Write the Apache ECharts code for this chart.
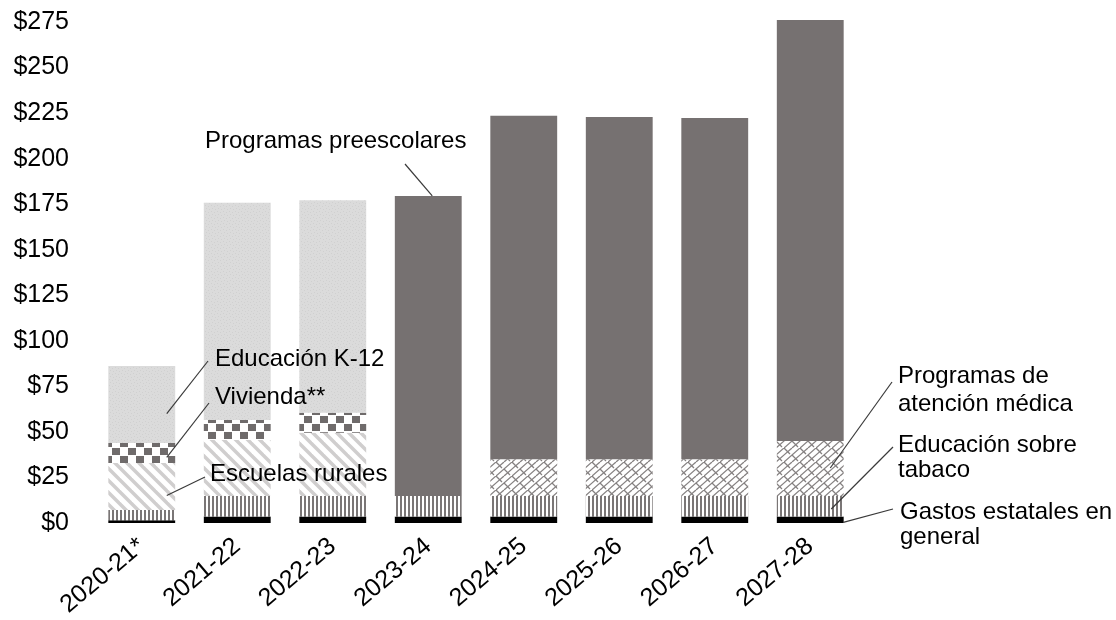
<!DOCTYPE html>
<html>
<head>
<meta charset="utf-8">
<script src="https://cdn.jsdelivr.net/npm/echarts@6/dist/echarts.min.js"></script>
<style>
html,body{margin:0;padding:0;background:#fff;}
#chart{width:1116px;height:620px;}
</style>
</head>
<body>
<div id="chart"></div>
<script>
// ---------- DATA ----------
const categories = ['2020-21*','2021-22','2022-23','2023-24','2024-25','2025-26','2026-27','2027-28'];
const yTicks = [0,25,50,75,100,125,150,175,200,225,250,275];
const generalFund   = [1.5, 3.5, 3.5, 3.5, 3.5, 3.5, 3.5, 3.5];
const tobaccoEd     = [5.6, 11.3, 11.3, 11.3, 11.3, 11.3, 11.3, 11.3];
const ruralSchools  = [25.8, 30.8, 34.8, 0, 0, 0, 0, 0];
const housing       = [11.0, 10.9, 10.9, 0, 0, 0, 0, 0];
const k12           = [42.3, 119.3, 116.6, 0, 0, 0, 0, 0];
const healthCare    = [0, 0, 0, 0, 20.2, 20.2, 20.2, 30.2];
const preschool     = [0, 0, 0, 164.7, 188.6, 187.9, 187.3, 231.1];

const seriesNames = ['Gastos estatales en general','Educación sobre tabaco','Escuelas rurales','Vivienda**','Educación K-12','Programas de atención médica','Programas preescolares'];
const seriesData = [generalFund, tobaccoEd, ruralSchools, housing, k12, healthCare, preschool];

// ---------- PATTERNS (styles) ----------
function pattern(w, h, draw) {
  const c = document.createElement('canvas');
  c.width = w; c.height = h;
  const ctx = c.getContext('2d');
  draw(ctx, w, h);
  return { image: c, repeat: 'repeat' };
}
const pVertical = pattern(4, 4, (ctx, w, h) => {
  ctx.fillStyle = '#fff'; ctx.fillRect(0, 0, w, h);
  ctx.fillStyle = '#7a7676'; ctx.fillRect(0, 0, 2, h);
});
const pDiagonal = pattern(12, 12, (ctx, w, h) => {
  ctx.fillStyle = '#fff'; ctx.fillRect(0, 0, w, h);
  ctx.strokeStyle = '#d0cece'; ctx.lineWidth = 3.5;
  for (let k = -1; k <= 1; k++) {
    ctx.beginPath(); ctx.moveTo(k * w - 2, -2); ctx.lineTo(k * w + w + 2, h + 2); ctx.stroke();
  }
});
const pChecker = pattern(16, 16, (ctx, w, h) => {
  ctx.fillStyle = '#fff'; ctx.fillRect(0, 0, w, h);
  ctx.fillStyle = '#6f6b6b';
  ctx.fillRect(0, 0, 8, 7); ctx.fillRect(8, 8, 8, 7);
});
const pSpeckle = pattern(6, 6, (ctx, w, h) => {
  ctx.fillStyle = '#dbdbdb'; ctx.fillRect(0, 0, w, h);
  ctx.fillStyle = '#d0d0d0';
  ctx.fillRect(1, 1, 1, 1); ctx.fillRect(4, 2, 1, 1); ctx.fillRect(2, 4, 1, 1); ctx.fillRect(5, 5, 1, 1);
});
const pScales = pattern(16, 14, (ctx, w, h) => {
  ctx.fillStyle = '#fff'; ctx.fillRect(0, 0, w, h);
  ctx.strokeStyle = '#858181'; ctx.lineWidth = 1.3;
  ctx.beginPath(); ctx.moveTo(0, h); ctx.lineTo(w, 0); ctx.stroke();
  ctx.beginPath(); ctx.moveTo(-8, h); ctx.lineTo(8, 0); ctx.stroke();
  ctx.beginPath(); ctx.moveTo(8, h); ctx.lineTo(24, 0); ctx.stroke();
  ctx.beginPath(); ctx.moveTo(8, 7); ctx.lineTo(14, 13); ctx.stroke();
  ctx.beginPath(); ctx.moveTo(0, 0); ctx.lineTo(6, 6); ctx.stroke();
});
const seriesColors = ['#000000', pVertical, pDiagonal, pChecker, pSpeckle, pScales, '#767171'];

// ---------- CHART ----------
const FONT = '"Liberation Sans", Arial, sans-serif';
const chart = echarts.init(document.getElementById('chart'), null, { renderer: 'canvas' });
chart.setOption({
  animation: false,
  backgroundColor: '#fff',
  grid: { left: 94, right: 258, top: 22, bottom: 97, containLabel: false, outerBoundsMode: 'none' },
  xAxis: {
    type: 'category',
    data: categories,
    axisLine: { show: false },
    axisTick: { show: false },
    axisLabel: { rotate: 40, margin: 20, fontSize: 25, fontFamily: FONT, color: '#000', interval: 0 }
  },
  yAxis: {
    type: 'value',
    min: yTicks[0], max: yTicks[yTicks.length - 1], interval: yTicks[1] - yTicks[0],
    axisLine: { show: false }, axisTick: { show: false }, splitLine: { show: false },
    axisLabel: { margin: 25, fontSize: 25, fontFamily: FONT, color: '#000', formatter: v => '$' + v }
  },
  series: seriesNames.map((name, i) => ({
    name, type: 'bar', stack: 'total', barWidth: '70%', clip: false,
    data: seriesData[i].map(v => v === 0 ? '-' : v),
    itemStyle: { color: seriesColors[i] }
  }))
});

// ---------- ANNOTATIONS (derived from data through the axes) ----------
function stackBase(s, cat) {
  let b = 0;
  for (let k = 0; k < s; k++) b += seriesData[k][cat];
  return b;
}
const annotations = [
  { lines: ['Programas preescolares'], tx: 205, ty: 128, lh: 26, from: [405, 164], s: 6, cat: 3, f: 1.0, dx: 4 },
  { lines: ['Educación K-12'], tx: 215, ty: 346, lh: 26, from: [208, 361], s: 4, cat: 0, f: 0.38, dx: 25 },
  { lines: ['Vivienda**'], tx: 215, ty: 384, lh: 26, from: [209, 403], s: 3, cat: 0, f: 0.28, dx: 25 },
  { lines: ['Escuelas rurales'], tx: 210, ty: 461, lh: 26, from: [205, 477], s: 2, cat: 0, f: 0.31, dx: 25 },
  { lines: ['Programas de', 'atención médica'], tx: 898, ty: 362, lh: 28, from: [892, 382], s: 5, cat: 7, f: 0.51, dx: 20 },
  { lines: ['Educación sobre', 'tabaco'], tx: 898, ty: 433, lh: 25, from: [893, 447], s: 1, cat: 7, f: 0.37, dx: 21 },
  { lines: ['Gastos estatales en', 'general'], tx: 900, ty: 500, lh: 25, from: [893, 509], s: 0, cat: 7, f: 0.1, dx: 33 }
];
const graphics = [];
annotations.forEach(a => {
  const val = stackBase(a.s, a.cat) + a.f * seriesData[a.s][a.cat];
  const p = chart.convertToPixel({ gridIndex: 0 }, [a.cat, val]);
  graphics.push({
    type: 'line', silent: true, z: 100,
    shape: { x1: a.from[0], y1: a.from[1], x2: p[0] + a.dx, y2: p[1] },
    style: { stroke: '#3a3a3a', lineWidth: 1.2 }
  });
  graphics.push({
    type: 'text', silent: true, z: 101, x: a.tx, y: a.ty,
    style: { text: a.lines.join('\n'), fill: '#000', font: '24px ' + FONT, lineHeight: a.lh, verticalAlign: 'top', align: 'left' }
  });
});
chart.setOption({ graphic: graphics });
</script>
</body>
</html>
